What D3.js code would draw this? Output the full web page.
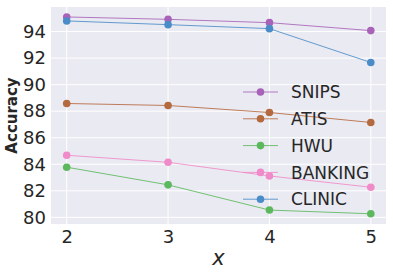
<!DOCTYPE html>
<html>
<head>
<meta charset="utf-8">
<script src="https://cdn.jsdelivr.net/npm/d3@7"></script>
<style>
  body { margin: 0; background: #fff; }
  svg { display: block; font-family: "DejaVu Sans", sans-serif; }
</style>
</head>
<body>
<div id="chart"></div>
<script>
// Data
const xValues = [2, 3, 4, 5];
const seriesNames = ["SNIPS", "ATIS", "HWU", "BANKING", "CLINIC"];
const snips = [95.1, 94.92, 94.67, 94.07];
const atis = [88.58, 88.43, 87.9, 87.15];
const hwu = [83.78, 82.45, 80.55, 80.27];
const banking = [84.68, 84.15, 83.12, 82.27];
const clinic = [94.8, 94.52, 94.22, 91.67];
const yTicks = [80, 82, 84, 86, 88, 90, 92, 94];

const seriesValues = [snips, atis, hwu, banking, clinic];
const colors = ["#a863b8", "#b5693f", "#5cb85c", "#f08ac8", "#4a8cc8"];

const W = 393, H = 276;
const margin = { top: 7, right: 7, bottom: 52, left: 51 };

const svg = d3.select("#chart").append("svg")
    .attr("width", W)
    .attr("height", H);

const x = d3.scaleLinear()
    .domain([1.845, 5.15])
    .range([margin.left, W - margin.right]);

const y = d3.scaleLinear()
    .domain([79.5, 95.85])
    .range([H - margin.bottom, margin.top]);

// Plot background
svg.append("rect")
    .attr("x", margin.left)
    .attr("y", margin.top)
    .attr("width", W - margin.right - margin.left)
    .attr("height", H - margin.bottom - margin.top)
    .attr("fill", "#eaeaf2");

// Grid
svg.append("g").selectAll("line")
    .data(xValues)
    .join("line")
    .attr("x1", d => x(d)).attr("x2", d => x(d))
    .attr("y1", margin.top).attr("y2", H - margin.bottom)
    .attr("stroke", "#fff").attr("stroke-width", 1);

svg.append("g").selectAll("line")
    .data(yTicks)
    .join("line")
    .attr("x1", margin.left).attr("x2", W - margin.right)
    .attr("y1", d => y(d)).attr("y2", d => y(d))
    .attr("stroke", "#fff").attr("stroke-width", 1);

// Axes (labels only, seaborn style)
const xAxis = svg.append("g")
    .attr("transform", `translate(0,${H - margin.bottom})`)
    .call(d3.axisBottom(x).tickValues(xValues).tickSize(0).tickPadding(6).tickFormat(d3.format("d")));
xAxis.select(".domain").remove();
xAxis.selectAll("text").attr("font-size", 18).attr("fill", "#262626")
    .attr("font-family", "DejaVu Sans");

const yAxis = svg.append("g")
    .attr("transform", `translate(${margin.left},0)`)
    .call(d3.axisLeft(y).tickValues(yTicks).tickSize(0).tickPadding(5).tickFormat(d3.format("d")));
yAxis.select(".domain").remove();
yAxis.selectAll("text").attr("font-size", 18).attr("fill", "#262626")
    .attr("font-family", "DejaVu Sans");

// Axis titles
svg.append("text")
    .attr("transform", `translate(17,${(margin.top + H - margin.bottom) / 2}) rotate(-90)`)
    .attr("text-anchor", "middle")
    .attr("font-size", 15)
    .attr("font-weight", "bold")
    .attr("fill", "#262626")
    .text("Accuracy");

svg.append("text")
    .attr("x", (margin.left + W - margin.right) / 2)
    .attr("y", 265)
    .attr("text-anchor", "middle")
    .attr("font-size", 21)
    .attr("font-style", "italic")
    .attr("fill", "#262626")
    .text("x");

// Lines and markers
const line = d3.line()
    .x((d, i) => x(xValues[i]))
    .y(d => y(d));

seriesValues.forEach((vals, k) => {
    const g = svg.append("g");
    g.append("path")
        .datum(vals)
        .attr("fill", "none")
        .attr("stroke", colors[k])
        .attr("stroke-opacity", 0.85)
        .attr("stroke-width", 1)
        .attr("d", line);
    g.selectAll("circle")
        .data(vals)
        .join("circle")
        .attr("cx", (d, i) => x(xValues[i]))
        .attr("cy", d => y(d))
        .attr("r", 3.8)
        .attr("fill", colors[k]);
});

// Legend
const legend = svg.append("g");
seriesNames.forEach((name, k) => {
    const ly = 92 + k * 26.8;
    const g = legend.append("g");
    g.append("line")
        .attr("x1", 243).attr("x2", 278)
        .attr("y1", ly).attr("y2", ly)
        .attr("stroke", colors[k]).attr("stroke-opacity", 0.85).attr("stroke-width", 1);
    g.append("circle")
        .attr("cx", 260.5).attr("cy", ly).attr("r", 3.8)
        .attr("fill", colors[k]);
    legend.append("text")
        .attr("x", 291)
        .attr("y", ly)
        .attr("dy", "0.36em")
        .attr("font-size", 17)
        .attr("fill", "#262626")
        .text(name);
});
</script>
</body>
</html>
